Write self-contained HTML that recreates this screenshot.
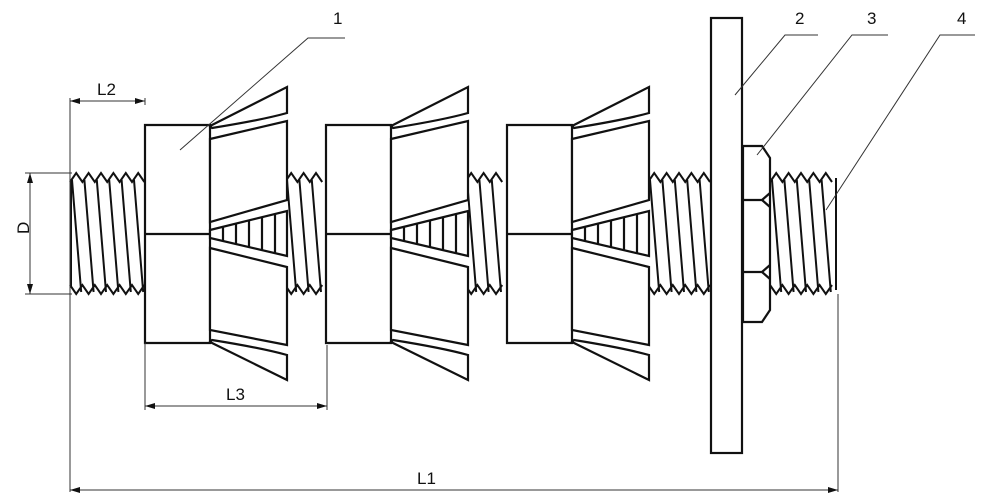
<!DOCTYPE html>
<html><head><meta charset="utf-8"><style>
html,body{margin:0;padding:0;background:#fff;width:1000px;height:501px;overflow:hidden}
svg{display:block}
text{font-family:"Liberation Sans",sans-serif;font-size:17px;fill:#111}
</style></head><body>
<svg id="s" width="1000" height="501" viewBox="0 0 1000 501" xmlns="http://www.w3.org/2000/svg">
<g id="thr" stroke="#111" stroke-width="2" fill="none"></g>
<g id="anch" stroke="#111" stroke-width="2.2" fill="#fff"></g>
<g stroke="#111" stroke-width="2.2" fill="#fff">
<rect x="711" y="18" width="31" height="435"/>
<path d="M743 146 H762 L770 158 V310 L762 322 H743 Z"/>
<path d="M743 200 H762 L770 193 M743 272 H762 L770 265 M762 200 L770 207 M762 272 L770 279" fill="none"/>
</g>
<g stroke="#333" stroke-width="1" fill="none">
<path d="M180 150 L308 38 H345"/>
<path d="M735 95 L785 35 H818"/>
<path d="M757 155 L852 35 H888"/>
<path d="M826 210 L940 35 H975"/>
<path d="M70 98 V492 M145 98 V105 M145 343 V410 M327 345 V410 M838 294 V492 M25 173 H72 M25 294 H72"/>
<path d="M70 101 H145 M30 173 V294 M145 406 H327 M70 490 H838"/>
</g>
<g fill="#111">
<path d="M70 101 l10 -3 v6z M145 101 l-10 -3 v6z M30 173 l-3 10 h6z M30 294 l-3 -10 h6z M145 406 l10 -3 v6z M327 406 l-10 -3 v6z M70 490 l10 -3 v6z M838 490 l-10 -3 v6z"/>
</g>
<text x="97" y="95">L2</text>
<text x="226" y="400">L3</text>
<text x="417" y="484">L1</text>
<text x="22" y="241" transform="rotate(-90 22 234)" style="font-size:17px">D</text>
<text x="333" y="24">1</text>
<text x="795" y="24">2</text>
<text x="867" y="24">3</text>
<text x="957" y="24">4</text>
</svg>
<script>
var ns="http://www.w3.org/2000/svg";
function P(g,d,f){var p=document.createElementNS(ns,"path");p.setAttribute("d",d);if(f)p.setAttribute("fill",f);document.getElementById(g).appendChild(p);}
function thread(x0,x1){var pitch=12.4,t="M"+x0+" 182",b="M"+x0+" 285",s="";
for(var x=x0;x+pitch<=x1+1;x+=pitch){t+=" L"+(x+pitch/2)+" 173 L"+(x+pitch)+" 182";b+=" L"+(x+pitch/2)+" 294 L"+(x+pitch)+" 285";
s+=" M"+(x+2)+" 180 L"+(x+pitch/2+5)+" 292";}
P("thr",t+" "+b+" "+s);}
thread(70,145);thread(285,330);thread(465,510);thread(648,712);thread(770,838);
P("thr","M71 180 V287 M836 178 V290");
function anchor(b){var x0=b+65,x1=b+142;
P("anch","M"+b+" 125 H"+x0+" V343 H"+b+" Z M"+b+" 234 H"+x0);
P("anch","M"+x0+" 126 L"+x1+" 87 V113 Q"+(x1-25)+" 120 "+(x0+2)+" 128 Z");
P("anch","M"+x0+" 139 L"+x1+" 121 V200 L"+x0+" 222 Z");
P("anch","M"+x0+" 230 L"+x1+" 211 V256 L"+x0+" 238 Z");
var h="";for(var i=1;i<6;i++){var xx=x0+i*13;h+=" M"+xx+" "+(230-i*3.2)+" L"+xx+" "+(238+i*3.2);}P("anch",h,"none");
P("anch","M"+x0+" 248 L"+x1+" 267 V345 L"+x0+" 330 Z");
P("anch","M"+x0+" 342 L"+x1+" 380 V355 Q"+(x1-25)+" 348 "+(x0+2)+" 340 Z");
}
anchor(145);anchor(326);anchor(507);
</script>
</body></html>
